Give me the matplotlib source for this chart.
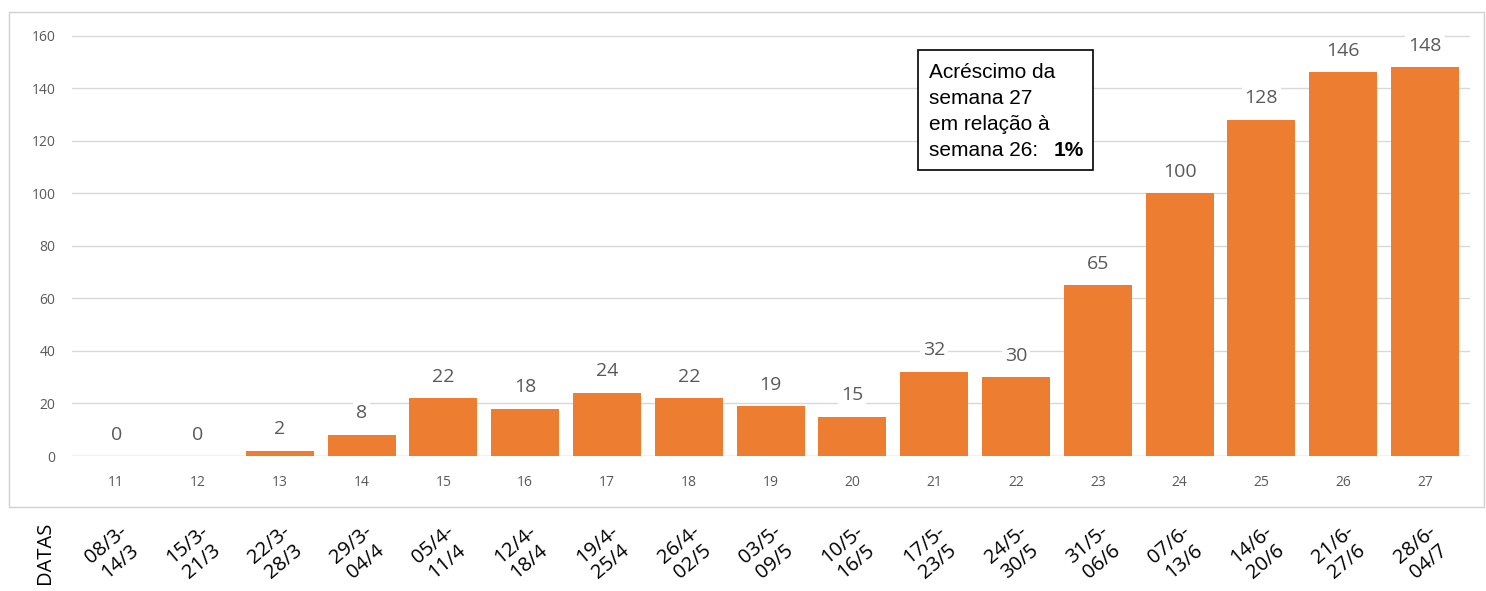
import matplotlib
matplotlib.use("Agg")
import matplotlib.pyplot as plt
from matplotlib.patches import Rectangle

semanas = ["11", "12", "13", "14", "15", "16", "17", "18", "19",
           "20", "21", "22", "23", "24", "25", "26", "27"]
casos = [0, 0, 2, 8, 22, 18, 24, 22, 19, 15, 32, 30, 65, 100, 128, 146, 148]
datas = ["08/3-\n14/3", "15/3-\n21/3", "22/3-\n28/3", "29/3-\n04/4",
         "05/4-\n11/4", "12/4-\n18/4", "19/4-\n25/4", "26/4-\n02/5",
         "03/5-\n09/5", "10/5-\n16/5", "17/5-\n23/5", "24/5-\n30/5",
         "31/5-\n06/6", "07/6-\n13/6", "14/6-\n20/6", "21/6-\n27/6",
         "28/6-\n04/7"]
y_ticks = [0, 20, 40, 60, 80, 100, 120, 140, 160]
nota = ["Acréscimo da", "semana 27", "em relação à", "semana 26:"]
nota_pct = "1%"

ORANGE = "#ED7D31"
GRID = "#d9d9d9"
TXT = "#595959"

W, H = 1486, 591
fig = plt.figure(figsize=(W / 100, H / 100), dpi=100)

# outer chart frame
fig.patches.append(Rectangle((9 / W, 1 - 507 / H), (1484 - 9) / W, (507 - 12) / H,
                             transform=fig.transFigure, fill=False,
                             edgecolor="#d0d0d0", lw=1.0))

ax = fig.add_axes([72 / W, 1 - 456 / H, (1470 - 72) / W, (456 - 25) / H])
x = list(range(len(casos)))
ax.bar(x, casos, width=0.83, color=ORANGE, zorder=3)
ax.set_xlim(-0.54, len(casos) - 1 + 0.55)
ax.set_ylim(0, 164)
ax.set_yticks(y_ticks)
ax.grid(axis="y", color=GRID, lw=1.0, zorder=0)
for s in ax.spines.values():
    s.set_visible(False)
ax.axhline(0, color=GRID, lw=1.0, zorder=1)
ax.tick_params(length=0)
ax.tick_params(axis="y", labelsize=10, labelcolor=TXT, pad=12)
ax.set_xticks(x)
ax.set_xticklabels(semanas, fontsize=10, color=TXT)
ax.tick_params(axis="x", pad=14)
for lbl in ax.get_xticklabels() + ax.get_yticklabels():
    lbl.set_family("Open Sans")

for xi, v in zip(x, casos):
    ax.annotate(str(v), (xi, v), xytext=(0, 9), textcoords="offset points",
                ha="center", va="bottom", fontsize=14, color=TXT,
                family="Open Sans", zorder=5,
                bbox=dict(boxstyle="square,pad=0.15", fc="white", ec="none"))

# annotation box (pixel layout from the reference)
def to_ax(px, py):
    return (px - 72) / (1470 - 72), (456 - py) / (456 - 25)

bx0, by0 = to_ax(918, 170)
ax.add_patch(Rectangle((bx0, by0), (1093 - 918) / (1470 - 72),
                       (170 - 50) / (456 - 25), transform=ax.transAxes,
                       facecolor="white", edgecolor="black", lw=1.2, zorder=5))
for i, linha in enumerate(nota):
    tx, ty = to_ax(929, 73 + 26 * i)
    t = ax.text(tx, ty, linha, transform=ax.transAxes, ha="left", va="center",
                fontsize=15, family="Liberation Sans", color="black", zorder=6)
    t.set_fontstretch("condensed")
px, py = to_ax(1069, 151)
ax.text(px, py, nota_pct, transform=ax.transAxes, ha="center", va="center",
        fontsize=15, fontweight="bold", family="Liberation Sans", zorder=6)

# date labels below the frame
for xi, d in zip(x, datas):
    xf = ax.transData.transform((xi, 0))[0] / fig.dpi / fig.get_figwidth()
    fig.text(xf - 0.002, 1 - 553 / H, d, rotation=40, ha="center", va="center",
             fontsize=14.5, family="Open Sans", linespacing=1.12)
fig.text(45 / W, 1 - 553 / H, "DATAS", rotation=90, ha="center", va="center",
         fontsize=14.5, family="Open Sans")

fig.savefig("out.png", dpi=100)
